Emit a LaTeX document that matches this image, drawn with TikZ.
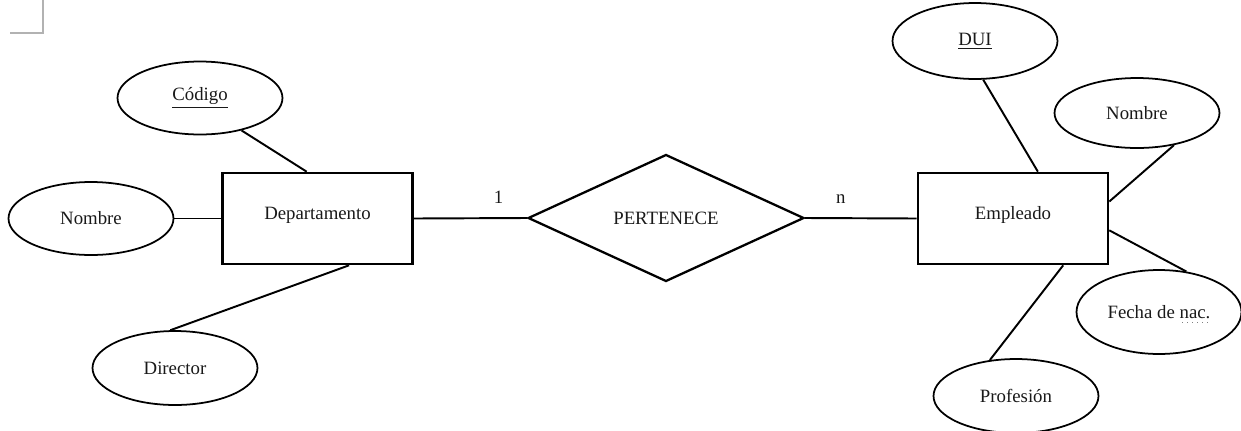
\documentclass[tikz,border=0pt]{standalone}
\usepackage{fontspec}
\setmainfont{Liberation Serif}
\usetikzlibrary{shapes.geometric}
\newcommand\spellmark[1]{\setbox0\hbox{#1}\rlap{\raisebox{-2.6pt}[0pt][0pt]{\hbox to\wd0{\xleaders\hbox{\kern.1em\textcolor{gray}{\rule{0.7pt}{0.7pt}}\kern.1em}\hfill}}}#1}
\tikzset{
  attr/.style={draw, ellipse, line width=1pt, minimum width=3.3cm, minimum height=1.46cm, inner sep=0pt},
  entity/.style={draw, rectangle, line width=1.5pt, minimum width=3.8cm, minimum height=1.82cm, text height=7.5pt, text depth=6pt},
  relation/.style={draw, diamond, aspect=2.2, line width=1.3pt, minimum width=5.52cm, minimum height=2.54cm},
  link/.style={line width=1.1pt},
  card/.style={inner sep=1pt}
}
\begin{document}
\begin{tikzpicture}[x=0.02cm, y=-0.02cm, font=\fontsize{10.7}{12}\selectfont, text=black!90]
\useasboundingbox (0,0) rectangle (1241,430);
% marca de esquina
\draw[gray!60, line width=0.6pt] (10,33) -- (43,33) -- (43,0);

\node[entity] (dep) at (317.5,218.5) {Departamento};
\node[relation] (rel) at (666,218) {PERTENECE};
\node[entity] (emp) at (1013,218.5) {Empleado};

\node[attr] (codigo) at (200,98) {\underline{Código}};
\node[attr] (nomdep) at (91,218.5) {Nombre};
\node[attr, minimum height=1.48cm] (director) at (175,368) {Director};

\node[attr, minimum height=1.52cm] (dui) at (975,41) {\underline{DUI}};
\node[attr, minimum height=1.4cm] (nomemp) at (1137,113) {Nombre};
\node[attr, minimum height=1.68cm] (fecha) at (1159,312) {Fecha de \spellmark{nac.}};
\node[attr, minimum height=1.48cm] (prof) at (1016,396) {Profesión};

\draw[link] (dep.east) -- node[card, pos=0.75, above=7pt] (uno) {1} (rel.west);
\draw[link] (rel.east) -- node[card, pos=0.32, above=7pt] (ene) {n} (emp.west);

\draw[link] (codigo.-38) -- (dep.103);
\draw[link] (nomdep.east) -- (dep.west);
\draw[link] (director.97) -- (dep.-56);
\draw[link] (dui.-78) -- (emp.62);
\draw[link] (nomemp.-41) -- (emp.10);
\draw[link] (fecha.56) -- (emp.-7);
\draw[link] (prof.126) -- (emp.-43);
\end{tikzpicture}
\end{document}
